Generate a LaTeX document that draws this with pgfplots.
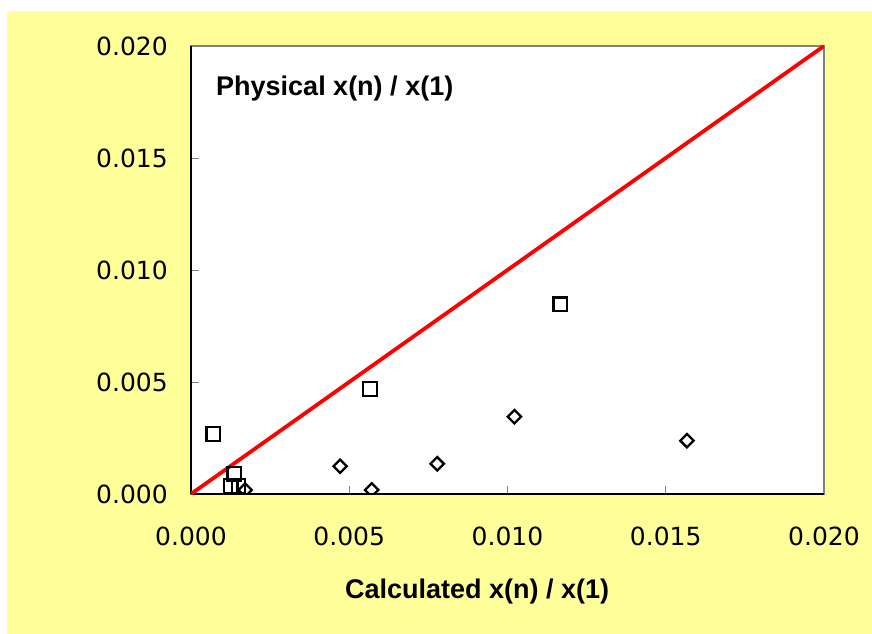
\documentclass[border=0pt]{standalone}
\usepackage{fontspec}
\setmainfont{DejaVu Sans}
\newfontfamily\labfont{Liberation Sans}
\usepackage{pgfplots}
\pgfplotsset{compat=1.18}
\definecolor{bgyellow}{HTML}{FFFF99}
\definecolor{tickgray}{HTML}{808080}
\begin{document}
\begin{tikzpicture}
\useasboundingbox (-191bp,-140bp) rectangle (681bp,494bp);
\fill[white] (-191bp,-140bp) rectangle (681bp,494bp);
\fill[bgyellow] (-184bp,-140bp) rectangle (681bp,483bp);
\begin{axis}[
  scale only axis,
  width=633bp, height=448bp,
  xmin=0, xmax=0.02, ymin=0, ymax=0.02,
  xtick={0,0.005,0.01,0.015,0.02},
  ytick={0,0.005,0.01,0.015,0.02},
  scaled ticks=false,
  /pgf/number format/.cd, fixed, fixed zerofill, precision=3, assume math mode=true,
  /pgfplots/.cd,
  axis background/.style={fill=white, draw=tickgray, line width=1.6bp},
  axis x line*=bottom, axis y line*=left,
  axis line style={-, black, line width=1.2bp},
  tick align=inside,
  major tick length=8bp,
  tick style={tickgray, line width=0.8bp},
  ticklabel style={font=\fontsize{25bp}{30bp}\selectfont, text=black},
  yticklabel style={anchor=east, inner sep=0pt, xshift=-23bp},
  xticklabel style={anchor=north, inner sep=0pt, yshift=-33bp},
  clip marker paths=true,
]
\addplot[red, line width=3.8bp] coordinates {(0,0) (0.02,0.02)};
\addplot[only marks, mark=square, mark size=6.8bp, mark options={solid, draw=black, line width=2.3bp, fill=none}] coordinates {
(0.000705,0.00268) (0.00137,0.00089) (0.00125,0.00036) (0.00150,0.00036) (0.00566,0.00469) (0.01167,0.00847)};
\addplot[only marks, mark=square, mark size=4.7bp, mark options={solid, draw=black, line width=2.3bp, fill=none, rotate=45}] coordinates {
(0.00171,0.00018) (0.00471,0.00124) (0.00571,0.00018) (0.00778,0.00135) (0.01022,0.00345) (0.01567,0.00238)};
\end{axis}
\node[anchor=base west, inner sep=0pt, font=\labfont\bfseries\fontsize{27bp}{32bp}\selectfont] at (25bp,398bp) {Physical x(n) / x(1)};
\node[anchor=base west, inner sep=0pt, font=\labfont\bfseries\fontsize{27bp}{32bp}\selectfont] at (154bp,-104.3bp) {Calculated x(n) / x(1)};
\end{tikzpicture}
\end{document}
